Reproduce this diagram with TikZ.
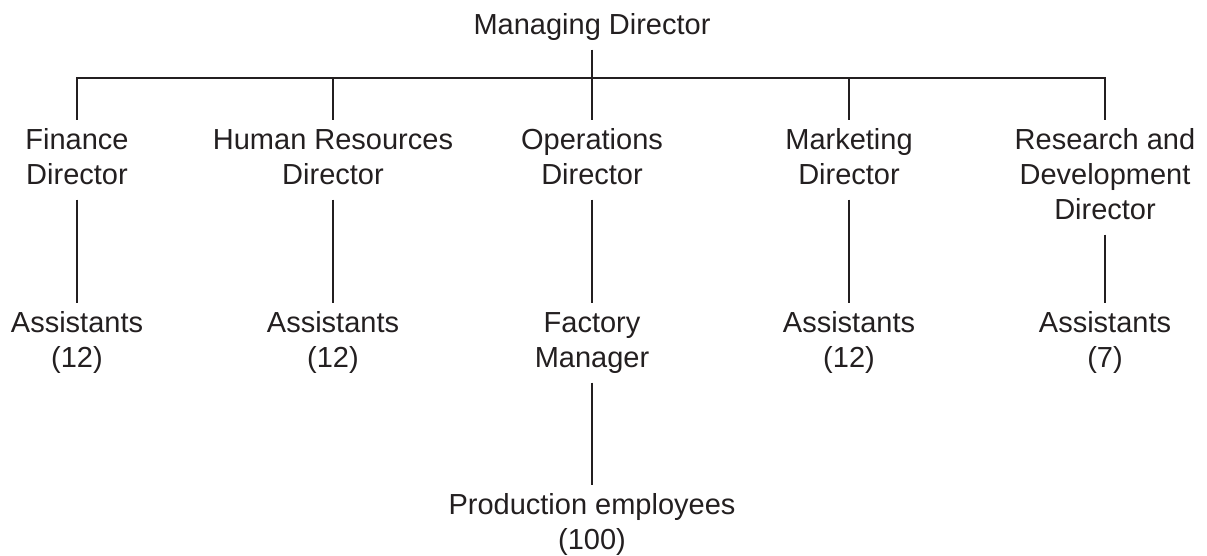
\documentclass[tikz,border=0pt]{standalone}
\usepackage{fontspec}
\setmainfont{Liberation Sans}
\definecolor{ink}{HTML}{231F20}
\newcommand\orglines[1]{\begin{tabular}[t]{@{}c@{}}#1\end{tabular}}
\begin{document}
\begin{tikzpicture}[x=1pt,y=-1pt,
  lbl/.style={anchor=base, inner sep=0pt, outer ysep=5pt, text=ink, font=\fontsize{29}{35}\selectfont},
  conn/.style={draw=ink, line width=2.1pt}]
\useasboundingbox (0,0) rectangle (1207,555);
\node[lbl] (md)  at (592,34)  {\orglines{Managing Director}};
\node[lbl] (fin) at (77,149)  {\orglines{Finance\\Director}};
\node[lbl] (hr)  at (333,149) {\orglines{Human Resources\\Director}};
\node[lbl] (ops) at (592,149) {\orglines{Operations\\Director}};
\node[lbl] (mkt) at (849,149) {\orglines{Marketing\\Director}};
\node[lbl] (rd)  at (1105,149) {\orglines{Research and\\Development\\Director}};
\node[lbl] (fa)  at (77,332)  {\orglines{Assistants\\(12)}};
\node[lbl] (ha)  at (333,332) {\orglines{Assistants\\(12)}};
\node[lbl] (fm)  at (592,332) {\orglines{Factory\\Manager}};
\node[lbl] (ma)  at (849,332) {\orglines{Assistants\\(12)}};
\node[lbl] (ra)  at (1105,332) {\orglines{Assistants\\(7)}};
\node[lbl] (pe)  at (592,514) {\orglines{Production employees\\(100)}};
\coordinate (bar) at (592,78);
\draw[conn] (md.south) -- (md.south |- bar);
\draw[conn] (fin.north) -- (fin.north |- bar) -- (rd.north |- bar) -- (rd.north);
\foreach \d in {hr,ops,mkt} \draw[conn] (\d.north |- bar) -- (\d.north);
\foreach \a/\b in {fin/fa,hr/ha,ops/fm,mkt/ma,rd/ra,fm/pe} \draw[conn] (\a.south) -- (\b.north);
\end{tikzpicture}
\end{document}
